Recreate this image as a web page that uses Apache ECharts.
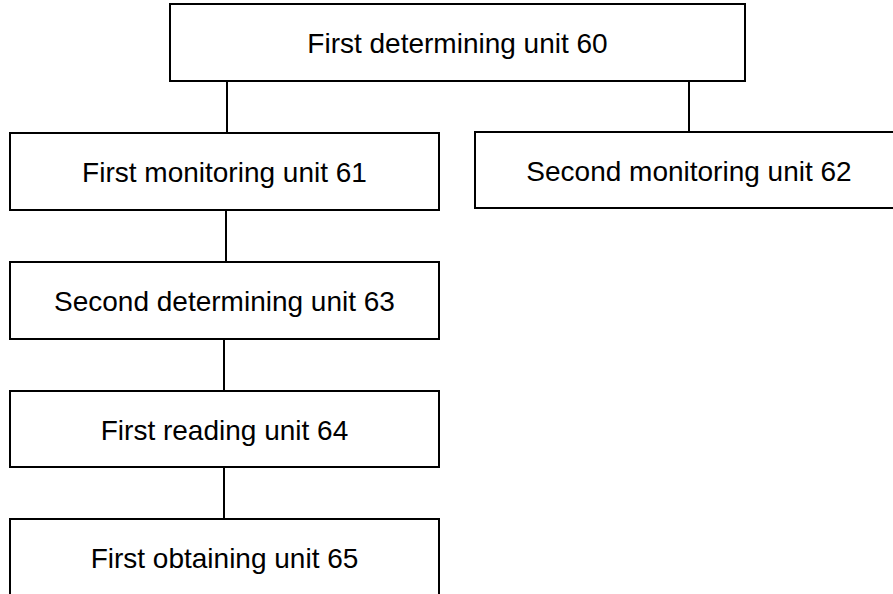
<!DOCTYPE html>
<html>
<head>
<meta charset="utf-8">
<script src="https://cdn.jsdelivr.net/npm/echarts@6/dist/echarts.min.js"></script>
<style>
html,body{margin:0;padding:0;background:#fff;}
#chart{width:893px;height:594px;}
</style>
</head>
<body>
<div id="chart"></div>
<script>
// Diagram content
const nodeNames = [
  'First determining unit 60',
  'First monitoring unit 61',
  'Second monitoring unit 62',
  'Second determining unit 63',
  'First reading unit 64',
  'First obtaining unit 65'
];
const parentIndex = [-1, 0, 0, 1, 3, 4];

// Layout (in axis units, one unit = one pixel of the drawing)
const boxLeft = [170, 10, 475, 10, 10, 10];
const boxTop = [4, 133, 132, 262, 391, 519];
const boxWidth = [575, 429, 428, 429, 429, 429];
const boxHeight = [77, 77, 76, 77, 76, 77];
const edgeX = [null, 227, 689, 226, 224, 224];

const chart = echarts.init(document.getElementById('chart'), null, {renderer: 'svg'});

const nodeData = nodeNames.map((n, i) => [i]);
const edgeData = parentIndex.map((p, i) => [i]).filter(d => parentIndex[d[0]] >= 0);

chart.setOption({
  animation: false,
  backgroundColor: '#fff',
  grid: {left: 0, right: 0, top: 0, bottom: 0},
  xAxis: {type: 'value', min: 0, max: 893, show: false},
  yAxis: {type: 'value', min: 0, max: 594, inverse: true, show: false},
  series: [
    {
      type: 'custom',
      coordinateSystem: 'cartesian2d',
      clip: false,
      data: edgeData,
      renderItem: function (params, api) {
        const c = api.value(0);
        const p = parentIndex[c];
        const cx = edgeX[c];
        const a = api.coord([cx, boxTop[p] + boxHeight[p]]);
        const b = api.coord([cx, boxTop[c]]);
        return {
          type: 'line',
          shape: {x1: a[0], y1: a[1], x2: b[0], y2: b[1]},
          style: {stroke: '#000', lineWidth: 2}
        };
      }
    },
    {
      type: 'custom',
      coordinateSystem: 'cartesian2d',
      clip: false,
      data: nodeData,
      renderItem: function (params, api) {
        const i = api.value(0);
        const p1 = api.coord([boxLeft[i], boxTop[i]]);
        const p2 = api.coord([boxLeft[i] + boxWidth[i], boxTop[i] + boxHeight[i]]);
        return {
          type: 'group',
          children: [
            {
              type: 'rect',
              shape: {x: p1[0], y: p1[1], width: p2[0] - p1[0], height: p2[1] - p1[1]},
              style: {fill: '#fff', stroke: '#000', lineWidth: 2}
            },
            {
              type: 'text',
              style: {
                text: nodeNames[i],
                x: (p1[0] + p2[0]) / 2,
                y: (p1[1] + p2[1]) / 2 + 1,
                align: 'center',
                verticalAlign: 'middle',
                fontSize: 28,
                fontFamily: '"Liberation Sans", Arial, sans-serif',
                fill: '#000'
              }
            }
          ]
        };
      }
    }
  ]
});
</script>
</body>
</html>
